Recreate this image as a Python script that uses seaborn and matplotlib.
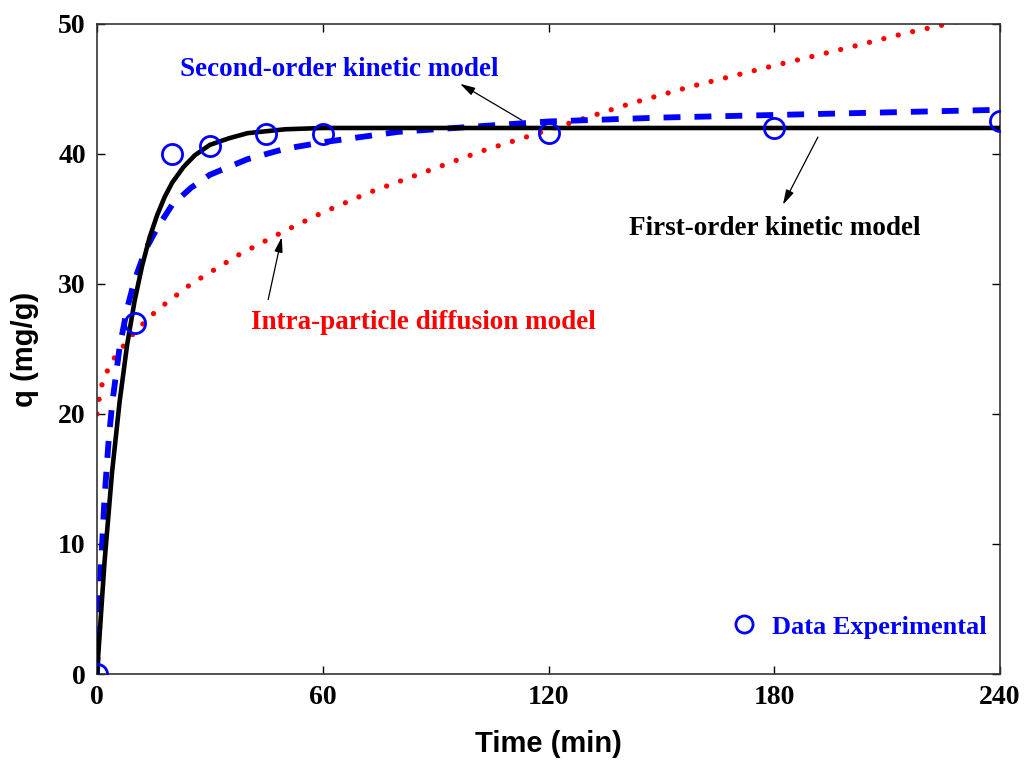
import matplotlib
matplotlib.use("Agg")
import matplotlib.pyplot as plt
import seaborn as sns
import numpy as np

# ---- data ----
t_data = [0, 10, 20, 30, 45, 60, 120, 180, 240]
q_data = [0.0, 27.0, 40.0, 40.6, 41.5, 41.5, 41.6, 42.0, 42.5]

t_first = [0, 2, 4, 6, 8, 10, 12, 14, 16, 18, 20, 23, 26, 30, 35, 40, 50, 60, 120, 180, 240]
q_first = [0.0, 8.6, 15.5, 20.9, 25.3, 28.7, 31.4, 33.6, 35.3, 36.7, 37.8, 39.0, 39.9,
           40.7, 41.2, 41.6, 41.9, 42.0, 42.0, 42.0, 42.0]

t_second = [0, 0.5, 1, 2, 3, 4, 6, 8, 10, 13, 16, 20, 25, 30, 40, 50, 60, 80, 100,
            120, 150, 180, 210, 240]
q_second = [0.0, 4.4, 8.0, 13.5, 17.6, 20.7, 25.1, 28.1, 30.3, 32.7, 34.3, 36.1, 37.4,
            38.4, 39.6, 40.4, 40.9, 41.7, 42.1, 42.5, 42.8, 43.0, 43.2, 43.4]

t_intra = [0, 1, 3, 5, 10, 16, 25, 38, 50, 60, 72, 87, 102, 114, 128, 142, 158, 180,
           200, 215, 226, 240]
q_intra = [20.0, 22.0, 23.5, 24.5, 26.3, 28.0, 30.0, 32.3, 34.1, 35.5, 37.0, 38.6, 40.2,
           41.3, 42.6, 43.9, 45.2, 46.8, 48.2, 49.3, 50.0, 51.0]

x_ticks = [0, 60, 120, 180, 240]
y_ticks = [0, 10, 20, 30, 40, 50]

sns.set_style("ticks")
plt.rcParams["text.color"] = "black"
plt.rcParams["axes.labelcolor"] = "black"
serif = ["Liberation Serif", "DejaVu Serif"]
narrow = ["Liberation Sans Narrow", "Liberation Sans", "DejaVu Sans"]

fig = plt.figure(figsize=(10.24, 7.66), dpi=100)
ax = fig.add_axes([0.0947, 0.1201, 0.8819, 0.8486])

sns.lineplot(x=t_intra, y=q_intra, ax=ax, color="red", lw=3.8, sort=False, zorder=2)
red_line = ax.lines[-1]
red_line.set_linestyle((0, (0.01, 2.8)))
red_line.set_dash_capstyle("round")

sns.lineplot(x=t_second, y=q_second, ax=ax, color="blue", lw=4.2, sort=False, zorder=3)
blue_line = ax.lines[-1]
blue_line.set_linestyle((0, (2.9, 2.4)))
blue_line.set_dash_capstyle("butt")

sns.lineplot(x=t_first, y=q_first, ax=ax, color="black", lw=3.3, sort=False, zorder=4)

ax.plot(t_data, q_data, ls="none", marker="o", ms=14.5, mfc="none", mec="blue",
        mew=2.0, zorder=5, label="Data Experimental")

ax.set_xlim(0, 240)
ax.set_ylim(0, 50)
ax.set_xticks(x_ticks)
ax.set_yticks(y_ticks)
ax.tick_params(direction="in", top=True, right=True, length=6, width=1, colors="black",
               pad=8)
for lab in ax.get_xticklabels() + ax.get_yticklabels():
    lab.set_fontfamily(serif)
    lab.set_fontweight("bold")
    lab.set_fontsize(20)
for sp in ax.spines.values():
    sp.set_visible(True)
    sp.set_linewidth(1.2)
    sp.set_color("#333333")

ax.set_xlabel("Time (min)", fontsize=21, fontweight="bold", family=narrow, labelpad=14,
              color="black")
ax.set_ylabel("q (mg/g)", fontsize=21, fontweight="bold", family=narrow, labelpad=14,
              color="black")

arrow = dict(arrowstyle="-|>,head_length=0.9,head_width=0.25", color="black", lw=0.9,
             shrinkA=0, shrinkB=0)
ax.annotate("", xy=(96.5, 45.4), xytext=(112.9, 42.6), arrowprops=arrow)
ax.annotate("", xy=(182.3, 36.1), xytext=(191.6, 41.3), arrowprops=arrow)
ax.annotate("", xy=(49.1, 33.6), xytext=(45.5, 28.8), arrowprops=arrow)

ax.text(64.3, 46.5, "Second-order kinetic model", color="blue", fontsize=19.5,
        fontweight="bold", family=serif, ha="center", va="center")
ax.text(180.0, 34.3, "First-order kinetic model", color="black", fontsize=19.5,
        fontweight="bold", family=serif, ha="center", va="center")
ax.text(86.8, 27.0, "Intra-particle diffusion model", color="red", fontsize=19.5,
        fontweight="bold", family=serif, ha="center", va="center")

leg = ax.legend(loc="lower right", bbox_to_anchor=(1.011, 0.018), frameon=False,
                prop=dict(family=serif, weight="bold", size=19), handletextpad=0.3,
                handlelength=1.5, markerscale=0.85)
for txt in leg.get_texts():
    txt.set_color("blue")

fig.savefig("out.png", dpi=100)
